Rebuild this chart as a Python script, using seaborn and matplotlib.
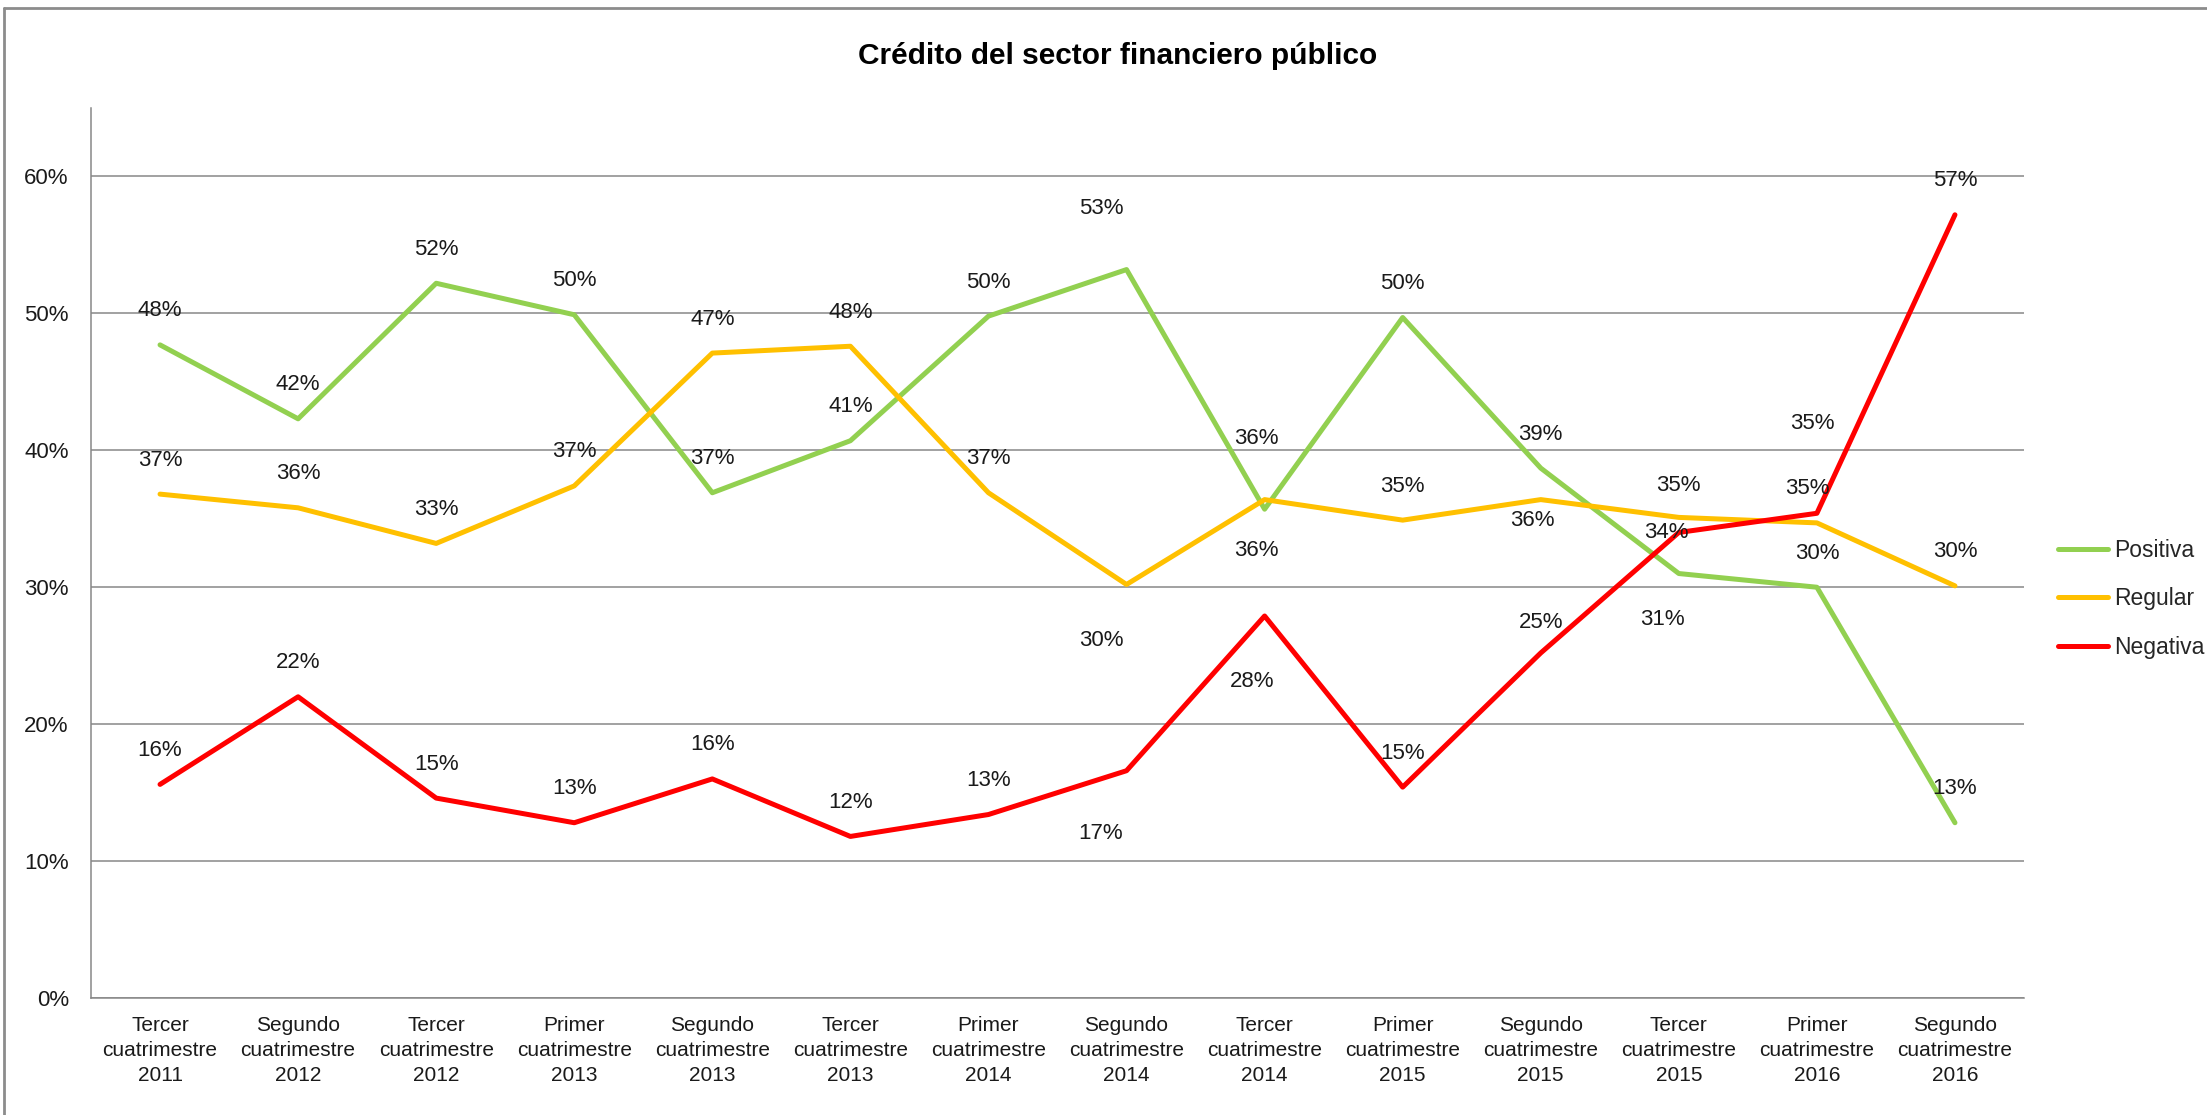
"""
Crédito del sector financiero público - percepción por cuatrimestre
"""

import matplotlib
matplotlib.use("Agg")
import matplotlib.pyplot as plt
from matplotlib.lines import Line2D
from matplotlib.ticker import PercentFormatter
import pandas as pd
import seaborn as sns

# Data (percent values)
periodos = [
    "Tercer\ncuatrimestre\n2011", "Segundo\ncuatrimestre\n2012", "Tercer\ncuatrimestre\n2012",
    "Primer\ncuatrimestre\n2013", "Segundo\ncuatrimestre\n2013", "Tercer\ncuatrimestre\n2013",
    "Primer\ncuatrimestre\n2014", "Segundo\ncuatrimestre\n2014", "Tercer\ncuatrimestre\n2014",
    "Primer\ncuatrimestre\n2015", "Segundo\ncuatrimestre\n2015", "Tercer\ncuatrimestre\n2015",
    "Primer\ncuatrimestre\n2016", "Segundo\ncuatrimestre\n2016",
]
positiva = [47.7, 42.3, 52.2, 49.9, 36.9, 40.7, 49.8, 53.2, 35.7, 49.7, 38.7, 31.0, 30.0, 12.8]
regular = [36.8, 35.8, 33.2, 37.4, 47.1, 47.6, 36.9, 30.2, 36.4, 34.9, 36.4, 35.1, 34.7, 30.1]
negativa = [15.6, 22.0, 14.6, 12.8, 16.0, 11.8, 13.4, 16.6, 27.9, 15.4, 25.2, 34.0, 35.4, 57.2]

series = ["Positiva", "Regular", "Negativa"]
colores = {"Positiva": "#92D050", "Regular": "#FFC000", "Negativa": "#FF0000"}

# Data label offsets in points (dx, dy), as placed in the original chart
UP = (0, 24.5)
offsets = {
    "Positiva": [UP] * 7 + [(-18, 44), (-6, 51), UP, UP, (-12, -33), UP, UP],
    "Regular": [UP] * 7 + [(-18, -40), (-6, -37), UP, (-6, -15), (0, 23), (-7, 25), UP],
    "Negativa": [UP] * 7 + [(-19, -45), (-9, -47), UP, (0, 22), (-9, 0), (-3, 65), UP],
}

df = pd.DataFrame({
    "idx": list(range(len(periodos))) * 3,
    "serie": [s for s in series for _ in periodos],
    "valor": [v / 100 for v in positiva + regular + negativa],
})

sns.set_style("white")
plt.rcParams["font.family"] = ["Liberation Sans", "DejaVu Sans"]

fig = plt.figure(figsize=(22.07, 11.15), dpi=100)
ax = fig.add_axes([91 / 2207, 1 - 998 / 1115, (2024 - 91) / 2207, (998 - 108) / 1115])

sns.lineplot(data=df, x="idx", y="valor", hue="serie", hue_order=series,
             palette=colores, linewidth=3.6, estimator=None, sort=False, ax=ax)

# data labels
valores = {"Positiva": positiva, "Regular": regular, "Negativa": negativa}
for s in series:
    for i, v in enumerate(valores[s]):
        ax.annotate(f"{v:.0f}%", (i, v / 100), xytext=offsets[s][i],
                    textcoords="offset points", ha="center", va="center",
                    fontsize=16, color="#1a1a1a")

# axes styling
grid_color = "#878787"
ax.set_xlim(-0.5, len(periodos) - 0.5)
ax.set_ylim(0, 0.65)
ax.set_yticks([0, 0.1, 0.2, 0.3, 0.4, 0.5, 0.6])
ax.yaxis.set_major_formatter(PercentFormatter(1, decimals=0))
ax.set_xticks(range(len(periodos)))
ax.set_xticklabels(periodos, linespacing=1.39)
ax.tick_params(axis="x", length=0, pad=13, labelsize=15, colors="#1a1a1a")
ax.tick_params(axis="y", length=0, pad=16, labelsize=16, colors="#1a1a1a")
ax.set_xlabel("")
ax.set_ylabel("")
ax.yaxis.grid(True, color=grid_color, linewidth=1.1)
ax.xaxis.grid(False)
for side in ["top", "right"]:
    ax.spines[side].set_visible(False)
for side in ["left", "bottom"]:
    ax.spines[side].set_color(grid_color)
    ax.spines[side].set_linewidth(1.1)

# legend
handles = [Line2D([], [], color=colores[s], linewidth=3.6, solid_capstyle="round") for s in series]
ax.legend(handles, series, loc="center left", bbox_to_anchor=(2058 / 2207, 1 - 599 / 1115),
          bbox_transform=fig.transFigure, frameon=False, fontsize=16.5,
          handlelength=2.2, handletextpad=0.25, labelspacing=1.1, borderpad=0, borderaxespad=0)

fig.text(1118 / 2207, 1 - 56 / 1115, "Crédito del sector financiero público",
         ha="center", va="center", fontsize=21.5, fontweight="bold", color="#000000")

# chart border (top and left edges are visible in the original crop)
fig.add_artist(Line2D([4 / 2207, 1], [1 - 8 / 1115, 1 - 8 / 1115], transform=fig.transFigure,
                      color="#8c8c8c", linewidth=2))
fig.add_artist(Line2D([4 / 2207, 4 / 2207], [0, 1 - 8 / 1115], transform=fig.transFigure,
                      color="#8c8c8c", linewidth=2))

fig.savefig("out.png", dpi=100)
plt.close(fig)
